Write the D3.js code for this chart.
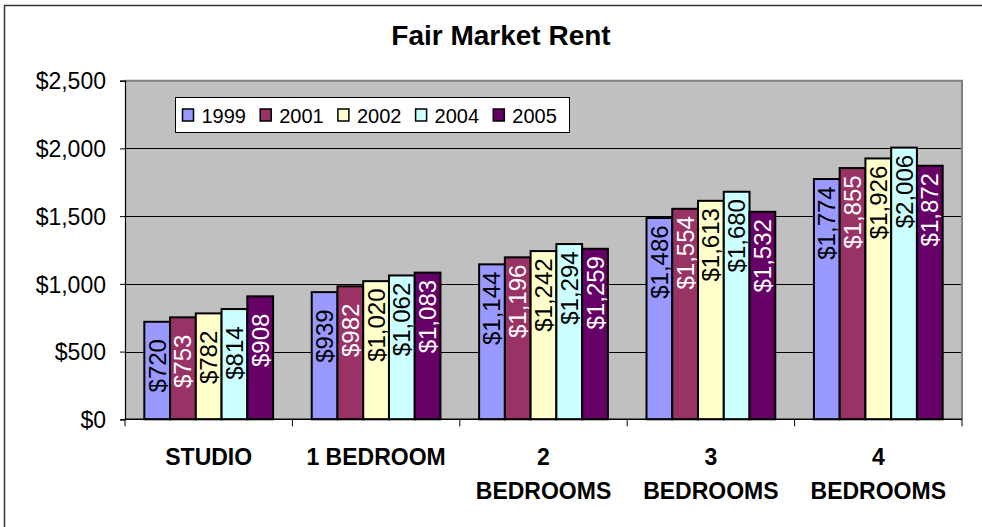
<!DOCTYPE html>
<html>
<head>
<meta charset="utf-8">
<script src="https://cdn.jsdelivr.net/npm/d3@7"></script>
<style>
  html, body { margin: 0; padding: 0; background: #fff; }
  svg { display: block; font-family: Arial, "Liberation Sans", sans-serif; }
</style>
</head>
<body>
<svg id="chart" width="982" height="527"></svg>
<script>
const categories = [["STUDIO"], ["1 BEDROOM"], ["2", "BEDROOMS"], ["3", "BEDROOMS"], ["4", "BEDROOMS"]];
const seriesNames = ["1999", "2001", "2002", "2004", "2005"];
const values1999 = [720, 939, 1144, 1486, 1774];
const values2001 = [753, 982, 1196, 1554, 1855];
const values2002 = [782, 1020, 1242, 1613, 1926];
const values2004 = [814, 1062, 1294, 1680, 2006];
const values2005 = [908, 1083, 1259, 1532, 1872];
const yTicks = [0, 500, 1000, 1500, 2000, 2500];
const colors = ["#9999FF", "#993366", "#FFFFCC", "#CCFFFF", "#660066"];
const labelColors = ["#000", "#fff", "#000", "#000", "#fff"];

const seriesValues = [values1999, values2001, values2002, values2004, values2005];

const svg = d3.select("#chart");
const pLeft = 125, pRight = 962, pTop = 80.7, pBottom = 419.3;

// outer frame
svg.append("path").attr("d", `M4.5,540 V5.5 H990`).attr("fill", "none").attr("stroke", "#333").attr("stroke-width", 1.5);

// title
svg.append("text").attr("x", 501).attr("y", 45).attr("text-anchor", "middle")
  .attr("font-size", 28).attr("font-weight", "bold").text("Fair Market Rent");

const x0 = d3.scaleBand().domain(d3.range(categories.length)).range([pLeft, pRight]).paddingInner(0).paddingOuter(0);
const bw = x0.bandwidth() / 6.5;
const x1 = d3.scaleBand().domain(d3.range(seriesNames.length))
  .range([bw * 0.75, x0.bandwidth() - bw * 0.75]).padding(0);
const y = d3.scaleLinear().domain([0, 2500]).range([pBottom, pTop]);

// plot background
svg.append("rect").attr("x", pLeft).attr("y", pTop).attr("width", pRight - pLeft).attr("height", pBottom - pTop).attr("fill", "#C0C0C0");

// gridlines
svg.append("g").selectAll("line").data(yTicks.filter(d => d > 0 && d < 2500)).join("line")
  .attr("x1", pLeft).attr("x2", pRight).attr("y1", d => Math.round(y(d)) + 0.5).attr("y2", d => Math.round(y(d)) + 0.5)
  .attr("stroke", "#000").attr("stroke-width", 1);

// plot border top/right
svg.append("path").attr("d", `M${pLeft},${pTop} H${pRight} V${pBottom}`).attr("fill", "none").attr("stroke", "#808080").attr("stroke-width", 2);

// y axis
const yAxis = d3.axisLeft(y).tickValues(yTicks).tickSize(5).tickPadding(14).tickFormat(d => "$" + d3.format(",")(d));
const gy = svg.append("g").attr("transform", `translate(${pLeft},0)`).call(yAxis);
gy.select(".domain").attr("stroke", "#000").attr("stroke-width", 1.2);
gy.selectAll(".tick line").attr("stroke", "#000");
gy.selectAll(".tick text").attr("font-size", 23).attr("font-family", "Arial, 'Liberation Sans', sans-serif").attr("fill", "#000").attr("dy", "0.36em");

// bars
const groups = svg.append("g").selectAll("g").data(categories.map((c, i) => i)).join("g")
  .attr("transform", i => `translate(${x0(i)},0)`);
groups.selectAll("rect").data(ci => seriesValues.map((s, si) => ({si, v: s[ci]}))).join("rect")
  .attr("x", d => x1(d.si)).attr("width", x1.bandwidth())
  .attr("y", d => y(d.v)).attr("height", d => y(0) - y(d.v))
  .attr("fill", d => colors[d.si]).attr("stroke", "#000").attr("stroke-width", 2);

// data labels
groups.selectAll("text").data(ci => seriesValues.map((s, si) => ({si, v: s[ci]}))).join("text")
  .attr("transform", d => `translate(${x1(d.si) + x1.bandwidth() / 2},${y(d.v) + 44}) rotate(-90)`)
  .attr("text-anchor", "middle").attr("dominant-baseline", "central")
  .attr("font-size", 24).attr("fill", d => labelColors[d.si])
  .text(d => "$" + d3.format(",")(d.v));

// x axis
const gx = svg.append("g");
gx.append("line").attr("x1", pLeft).attr("x2", pRight).attr("y1", pBottom).attr("y2", pBottom).attr("stroke", "#000").attr("stroke-width", 1.5);
gx.selectAll("line.t").data(d3.range(categories.length + 1)).join("line").attr("class", "t")
  .attr("x1", i => i < categories.length ? x0(i) : pRight).attr("x2", i => i < categories.length ? x0(i) : pRight)
  .attr("y1", pBottom).attr("y2", pBottom + 7).attr("stroke", "#000");
gx.selectAll("text").data(categories).join("text")
  .attr("x", (c, i) => x0(i) + x0.bandwidth() / 2).attr("y", 465)
  .attr("text-anchor", "middle").attr("font-size", 23).attr("font-weight", "bold")
  .each(function(c) {
    d3.select(this).selectAll("tspan").data(c).join("tspan")
      .attr("x", d3.select(this).attr("x")).attr("dy", (d, k) => k === 0 ? 0 : 34).text(d => d);
  });

// legend
const lg = svg.append("g");
lg.append("rect").attr("x", 175.5).attr("y", 97.5).attr("width", 394).attr("height", 35).attr("fill", "#fff").attr("stroke", "#000").attr("stroke-width", 1);
const items = lg.selectAll("g").data(seriesNames).join("g").attr("transform", (d, i) => `translate(${182.5 + i * 77.7},0)`);
items.append("rect").attr("x", 0).attr("y", 109).attr("width", 11).attr("height", 12)
  .attr("fill", (d, i) => colors[i]).attr("stroke", "#000").attr("stroke-width", 1.5);
items.append("text").attr("x", 19).attr("y", 123.3).attr("font-size", 20).text(d => d);
</script>
</body>
</html>
